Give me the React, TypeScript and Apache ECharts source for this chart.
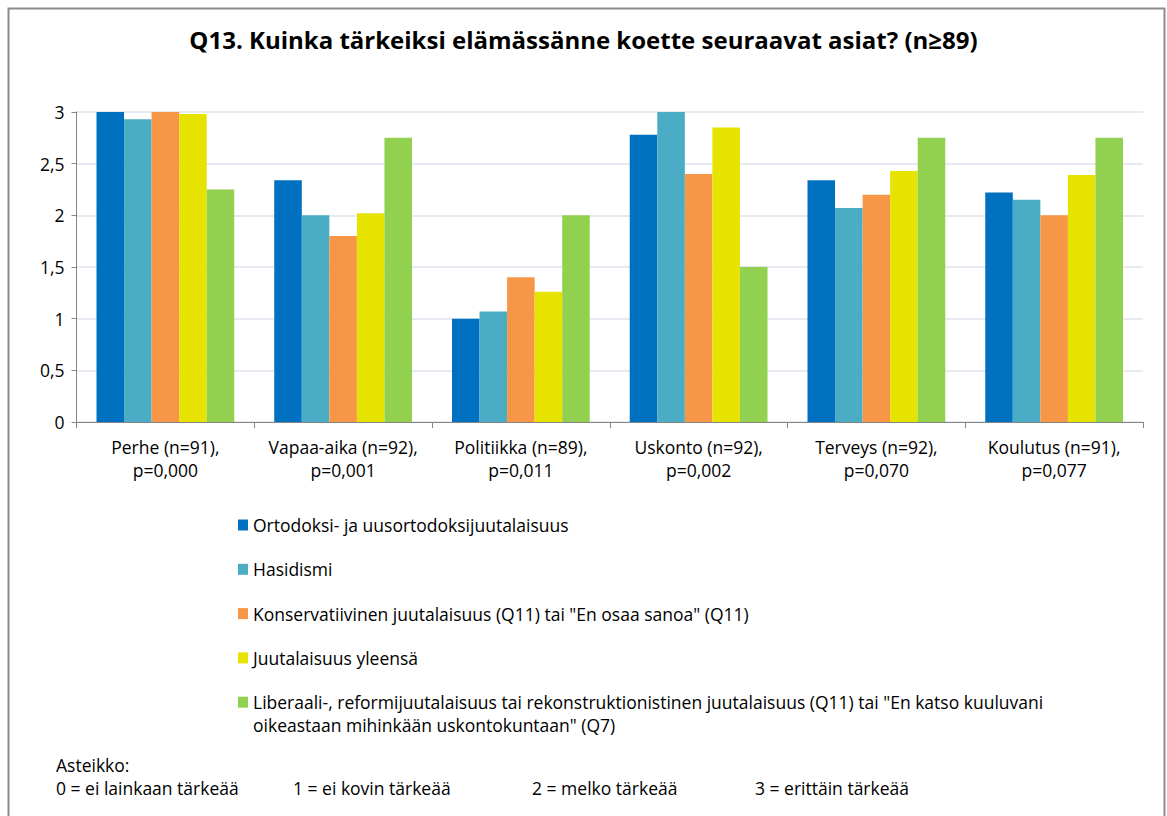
import React, { useEffect, useRef } from "react";
import * as echarts from "echarts";

const categories = [
  "Perhe (n=91),\np=0,000",
  "Vapaa-aika (n=92),\np=0,001",
  "Politiikka (n=89),\np=0,011",
  "Uskonto (n=92),\np=0,002",
  "Terveys (n=92),\np=0,070",
  "Koulutus (n=91),\np=0,077",
];

const seriesNames = [
  "Ortodoksi- ja uusortodoksijuutalaisuus",
  "Hasidismi",
  'Konservatiivinen juutalaisuus (Q11) tai "En osaa sanoa" (Q11)',
  "Juutalaisuus yleensä",
  'Liberaali-, reformijuutalaisuus tai rekonstruktionistinen juutalaisuus (Q11) tai "En katso kuuluvani oikeastaan mihinkään uskontokuntaan" (Q7)',
];
const lastNameLine1 =
  'Liberaali-, reformijuutalaisuus tai rekonstruktionistinen juutalaisuus (Q11) tai "En katso kuuluvani';
const lastNameLine2 = 'oikeastaan mihinkään uskontokuntaan" (Q7)';

const ortodoksi = [3.0, 2.34, 1.0, 2.78, 2.34, 2.22];
const hasidismi = [2.93, 2.0, 1.07, 3.0, 2.07, 2.15];
const konservatiivinen = [3.0, 1.8, 1.4, 2.4, 2.2, 2.0];
const yleensa = [2.98, 2.02, 1.26, 2.85, 2.43, 2.39];
const liberaali = [2.25, 2.75, 2.0, 1.5, 2.75, 2.75];

const seriesValues = [ortodoksi, hasidismi, konservatiivinen, yleensa, liberaali];
const colors = ["#0070C0", "#4BACC6", "#F79646", "#E6E300", "#92D050"];

const yTicks = [0, 0.5, 1, 1.5, 2, 2.5, 3];

const titleText = "Q13. Kuinka tärkeiksi elämässänne koette seuraavat asiat? (n≥89)";
const scaleTitle = "Asteikko:";
const scaleItems = [
  "0 = ei lainkaan tärkeää",
  "1 = ei kovin tärkeää",
  "2 = melko tärkeää",
  "3 = erittäin tärkeää",
];

const FONT = "'Open Sans', sans-serif";
const FS = 17.5;

export default function App() {
  const ref = useRef<HTMLDivElement>(null);
  useEffect(() => {
    document.body.style.margin = "0";
    const chart = echarts.init(ref.current!, null, { renderer: "svg" });
    const scaleX = [56, 293, 532, 755];
    chart.setOption({
      animation: false,
      backgroundColor: "#ffffff",
      textStyle: { fontFamily: FONT },
      title: {
        text: titleText,
        left: "center",
        top: 22,
        textStyle: { fontFamily: FONT, fontSize: 24, fontWeight: "bold", color: "#000" },
      },
      grid: { left: 76.5, right: 24, top: 112, bottom: 394, containLabel: false },
      legend: {
        orient: "vertical",
        left: 233,
        top: 509,
        itemWidth: 10,
        itemHeight: 11,
        itemGap: 22.3,
        icon: "rect",
        textStyle: { fontFamily: FONT, fontSize: FS, color: "#000", lineHeight: 22 },
        formatter: (name: string) => (name === seriesNames[4] ? lastNameLine1 : name),
        data: seriesNames,
      },
      xAxis: {
        type: "category",
        data: categories,
        axisLine: { lineStyle: { color: "#868686", width: 1 } },
        axisTick: { show: true, length: 6, lineStyle: { color: "#868686" } },
        axisLabel: {
          interval: 0,
          hideOverlap: false,
          fontFamily: FONT,
          fontSize: FS,
          color: "#000",
          lineHeight: 23,
          margin: 13,
        },
      },
      yAxis: {
        type: "value",
        min: 0,
        max: 3,
        interval: 0.5,
        axisLine: { show: true, lineStyle: { color: "#868686", width: 1 } },
        axisTick: { show: true, length: 5, lineStyle: { color: "#868686" } },
        splitLine: { lineStyle: { color: "#DCE3EE", width: 1.5 } },
        axisLabel: {
          fontFamily: FONT,
          fontSize: FS,
          color: "#000",
          margin: 12,
          formatter: (v: number) => (yTicks.includes(v) ? String(v).replace(".", ",") : ""),
        },
      },
      series: seriesNames.map((name, i) => ({
        name,
        type: "bar",
        data: seriesValues[i],
        barGap: "0%",
        barCategoryGap: "22.5%",
        itemStyle: { color: colors[i] },
      })),
      graphic: [
        {
          type: "rect",
          shape: { x: 8.5, y: 8.5, width: 1156, height: 830 },
          style: { fill: "none", stroke: "#8C8C8C", lineWidth: 2 },
          silent: true,
        },
        {
          type: "text",
          left: 253,
          top: 716,
          style: { text: lastNameLine2, fontFamily: FONT, fontSize: FS, fill: "#000" },
        },
        {
          type: "text",
          left: 56,
          top: 756,
          style: { text: scaleTitle, fontFamily: FONT, fontSize: FS, fill: "#000" },
        },
        ...scaleItems.map((t, i) => ({
          type: "text",
          left: scaleX[i],
          top: 779,
          style: { text: t, fontFamily: FONT, fontSize: FS, fill: "#000" },
        })),
      ],
    });
    return () => chart.dispose();
  }, []);
  return <div ref={ref} style={{ width: 1167, height: 816 }} />;
}
